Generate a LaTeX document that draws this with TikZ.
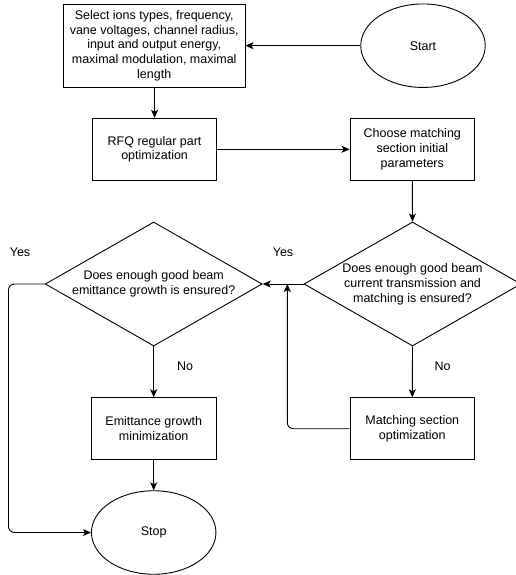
\documentclass[tikz,border=0pt]{standalone}
\usepackage{fontspec}
\setmainfont{Liberation Sans}
\usetikzlibrary{shapes.geometric,arrows.meta}
\begin{document}
\begin{tikzpicture}[x=1pt,y=-1pt,
  every node/.style={font=\fontsize{12.5}{14.8}\selectfont, align=center},
  boxnode/.style={draw, line width=0.9pt, rectangle, inner sep=0pt, minimum width=124.5pt, minimum height=62pt},
  ovalnode/.style={draw, line width=0.9pt, ellipse, inner sep=0pt, minimum width=124.5pt, minimum height=83.5pt},
  decnode/.style={draw, line width=0.9pt, diamond, inner sep=0pt, minimum width=217pt, minimum height=124pt},
  txt/.style={inner sep=0pt},
  conn/.style={line width=0.9pt, -{Stealth[length=8pt,width=7pt,inset=2pt]}, rounded corners=6pt},
  plainconn/.style={line width=0.9pt, rounded corners=6pt}]
\useasboundingbox (0,0) rectangle (516,575);

\node[boxnode, minimum width=181.7pt, minimum height=83.3pt] (sel) at (154.2,45.7)
  {Select ions types, frequency,\\vane voltages, channel radius,\\input and output energy,\\maximal modulation, maximal\\length};
\node[ovalnode] (start) at (423,45.7) {Start};
\node[boxnode] (rfq) at (154.6,149.3) {RFQ regular part\\optimization};
\node[boxnode] (choose) at (412.3,149.3) {Choose matching\\section initial\\parameters};

\node[decnode] (d1) at (153.7,284) {};
\node[txt] (d1t) at (153.7,284) {Does enough good beam\\emittance growth is ensured?};
\node[decnode] (d2) at (412.5,284) {};
\node[txt] (d2t) at (412.5,284) {Does enough good beam\\current transmission and\\matching is ensured?};

\node[boxnode] (emit) at (153.7,428.7) {Emittance growth\\minimization};
\node[boxnode] (match) at (412.3,428.7) {Matching section\\optimization};
\node[ovalnode] (stop) at (153.7,532.5) {Stop};

\node[txt] (yes1) at (20,252) {Yes};
\node[txt] (yes2) at (283,252) {Yes};
\node[txt] (no1) at (185,366.7) {No};
\node[txt] (no2) at (442.7,366.7) {No};

\coordinate (j) at (287.3,284);

\draw[conn] (start.west) -- (sel.east);
\draw[conn] (sel.south -| rfq.north) -- (rfq.north);
\draw[conn] (rfq.east) -- (choose.west);
\draw[conn] (choose.south) -- (d2.north);
\draw[conn] (d2.west) -- (d1.east);
\draw[conn] (d1.south) -- (emit.north);
\draw[conn] (emit.south) -- (stop.north);
\draw[conn] (d2.south) -- (match.north);
\draw[conn] (d1.west) -- (8.5,284) -- (8.5,532.5) -- (stop.west);
\draw[conn] (match.west) -- (j |- match.west) -- (j);
\end{tikzpicture}
\end{document}
